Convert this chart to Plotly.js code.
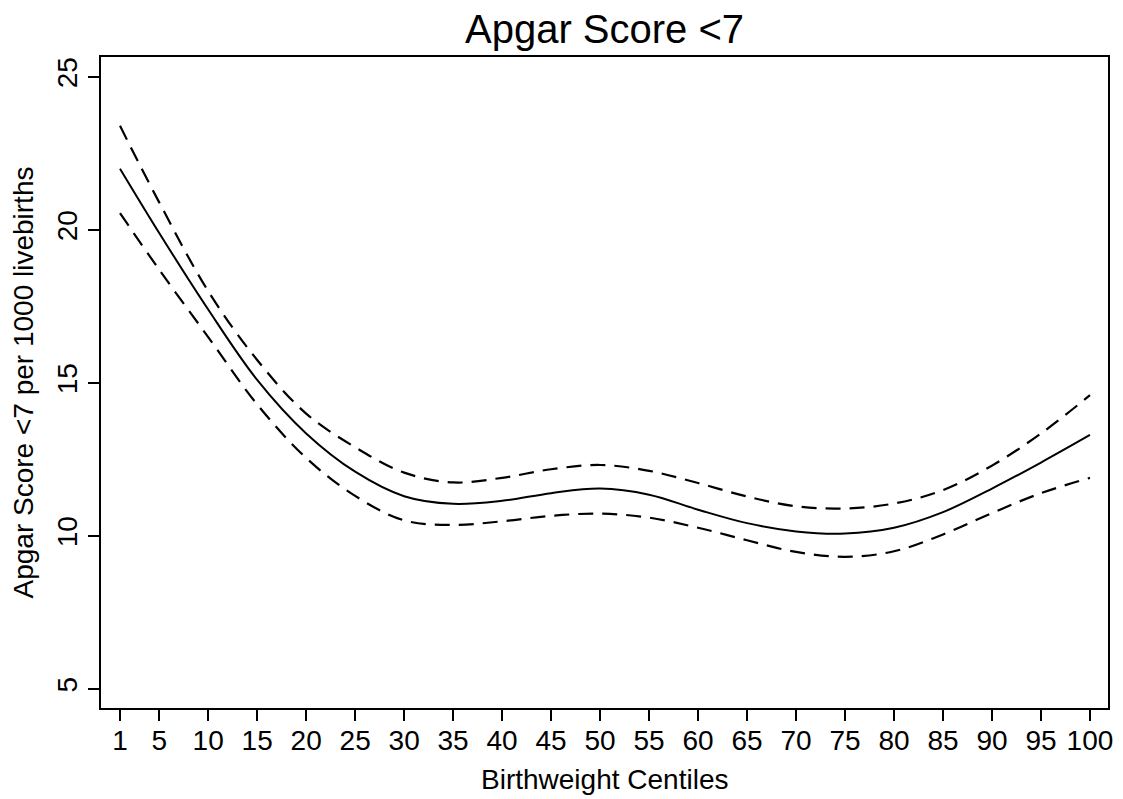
<!DOCTYPE html>
<html>
<head>
<meta charset="utf-8">
<script src="https://cdn.plot.ly/plotly-3.0.1.min.js"></script>
<style>
  html, body { margin: 0; padding: 0; background: #fff; }
  #chart { width: 1123px; height: 799px; }
</style>
</head>
<body>
<div id="chart"></div>
<script>
// Birthweight centiles (x)
const centiles = [1, 5, 10, 15, 20, 25, 30, 35, 40, 45, 50, 55, 60, 65, 70, 75, 80, 85, 90, 95, 100];
// Fitted rate of Apgar score <7 per 1000 livebirths
const estimate = [22.0, 19.9, 17.4, 15.1, 13.35, 12.1, 11.3, 11.05, 11.15, 11.4, 11.55, 11.35, 10.86, 10.42, 10.15, 10.08, 10.27, 10.78, 11.55, 12.4, 13.3];
// Upper 95% confidence limit
const upperCI = [23.4, 20.9, 18.0, 15.75, 14.0, 12.9, 12.07, 11.75, 11.9, 12.18, 12.32, 12.13, 11.73, 11.29, 10.97, 10.9, 11.06, 11.5, 12.3, 13.35, 14.6];
// Lower 95% confidence limit
const lowerCI = [20.55, 18.7, 16.5, 14.3, 12.55, 11.31, 10.51, 10.36, 10.48, 10.66, 10.73, 10.6, 10.27, 9.86, 9.48, 9.32, 9.5, 10.05, 10.75, 11.4, 11.9];
// Tick labels
const xTicks = [1, 5, 10, 15, 20, 25, 30, 35, 40, 45, 50, 55, 60, 65, 70, 75, 80, 85, 90, 95, 100];
const yTicks = [5, 10, 15, 20, 25];
const xTitle = 'Birthweight Centiles';
const yTitle = 'Apgar Score &lt;7 per 1000 livebirths';
const chartTitle = 'Apgar Score &lt;7';

const FONT = '"Liberation Sans", Arial, Helvetica, sans-serif';

const traces = [
  { x: centiles, y: upperCI, type: 'scatter', mode: 'lines', name: 'Upper CI',
    line: { color: '#000', width: 2.2, dash: '15px,9px', shape: 'spline', smoothing: 1 } },
  { x: centiles, y: lowerCI, type: 'scatter', mode: 'lines', name: 'Lower CI',
    line: { color: '#000', width: 2.2, dash: '15px,9px', shape: 'spline', smoothing: 1 } },
  { x: centiles, y: estimate, type: 'scatter', mode: 'lines', name: 'Estimate',
    line: { color: '#000', width: 2, shape: 'spline', smoothing: 1 } }
];

const layout = {
  width: 1123, height: 799,
  paper_bgcolor: '#fff', plot_bgcolor: '#fff',
  showlegend: false,
  margin: { l: 101, r: 15, t: 57, b: 91, pad: 0 },
  font: { family: FONT, color: '#000', size: 28 },
  title: {
    text: chartTitle,
    font: { family: FONT, size: 40, color: '#000' },
    x: 0.5, xref: 'paper', xanchor: 'center',
    y: 1 - 29 / 799, yref: 'container', yanchor: 'middle'
  },
  xaxis: {
    range: [-0.94, 101.84],
    tickmode: 'array', tickvals: xTicks, ticktext: xTicks.map(String),
    ticks: 'outside', ticklen: 11, tickwidth: 1.5, tickcolor: '#000',
    ticklabelstandoff: -5,
    showline: true, linecolor: '#000', linewidth: 2, mirror: true,
    showgrid: false, zeroline: false,
    tickfont: { family: FONT, size: 28, color: '#000' }
  },
  yaxis: {
    range: [4.38, 25.65],
    tickmode: 'array', tickvals: yTicks, ticktext: yTicks.map(String),
    tickangle: -90,
    ticks: 'outside', ticklen: 11, tickwidth: 1.5, tickcolor: '#000',
    showline: true, linecolor: '#000', linewidth: 2, mirror: true,
    showgrid: false, zeroline: false,
    tickfont: { family: FONT, size: 28, color: '#000' },
    title: { text: yTitle, font: { family: FONT, size: 28, color: '#000' }, standoff: 10 }
  },
  annotations: [
    { text: xTitle, xref: 'paper', yref: 'paper', x: 0.5, y: -0.137,
      xanchor: 'center', yanchor: 'bottom', showarrow: false,
      font: { family: FONT, size: 28, color: '#000' } }
  ]
};

Plotly.newPlot('chart', traces, layout, { displayModeBar: false, staticPlot: true });
</script>
</body>
</html>
